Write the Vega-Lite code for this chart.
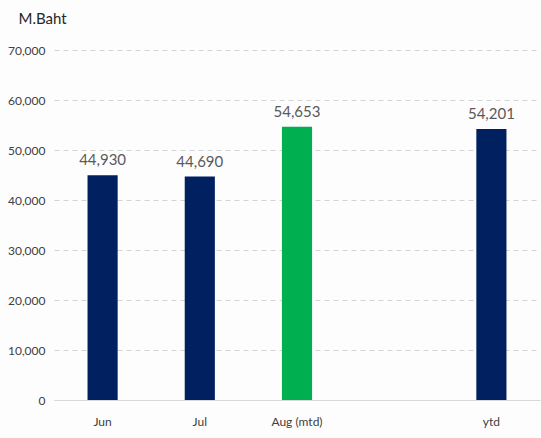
{
  "$schema": "https://vega.github.io/schema/vega-lite/v6.json",
  "width": 486,
  "height": 350,
  "autosize": {"type": "none"},
  "padding": {"left": 54, "top": 50, "right": 1, "bottom": 38},
  "background": "#fdfdfd",
  "config": {
    "font": "Lato",
    "view": {"stroke": null}
  },
  "data": {
    "values": [
      {"period": "Jun", "value": 44930, "kind": "month"},
      {"period": "Jul", "value": 44690, "kind": "month"},
      {"period": "Aug (mtd)", "value": 54653, "kind": "mtd"},
      {"period": "ytd", "value": 54201, "kind": "month"}
    ]
  },
  "encoding": {
    "x": {
      "field": "period",
      "type": "nominal",
      "sort": null,
      "scale": {"domain": ["Jun", "Jul", "Aug (mtd)", " ", "ytd"], "paddingInner": 0.69, "paddingOuter": 0.345},
      "axis": {
        "title": null,
        "labelAngle": 0,
        "ticks": false,
        "domain": true,
        "domainColor": "#d9d9d9",
        "labelFontSize": 12,
        "labelColor": "#404040",
        "labelPadding": 16
      }
    },
    "y": {
      "field": "value",
      "type": "quantitative",
      "scale": {"domain": [0, 70000]},
      "axis": {
        "values": [0, 10000, 20000, 30000, 40000, 50000, 60000, 70000],
        "format": ",d",
        "domain": false,
        "ticks": false,
        "grid": true,
        "gridDash": [5, 4],
        "gridColor": "#d4d4d4",
        "labelFontSize": 12,
        "labelColor": "#404040",
        "labelPadding": 9,
        "title": "M.Baht",
        "titleAngle": 0,
        "titleAlign": "left",
        "titleBaseline": "middle",
        "titleX": -36,
        "titleY": -32,
        "titleFontSize": 15,
        "titleFontWeight": "normal",
        "titleColor": "#262626"
      }
    }
  },
  "layer": [
    {
      "mark": {"type": "bar"},
      "encoding": {
        "color": {
          "field": "kind",
          "type": "nominal",
          "scale": {"domain": ["month", "mtd"], "range": ["#002060", "#00b050"]},
          "legend": null
        }
      }
    },
    {
      "mark": {"type": "text", "baseline": "bottom", "dy": -7, "fontSize": 15, "color": "#595959"},
      "encoding": {
        "text": {"field": "value", "type": "quantitative", "format": ",d"}
      }
    }
  ]
}
